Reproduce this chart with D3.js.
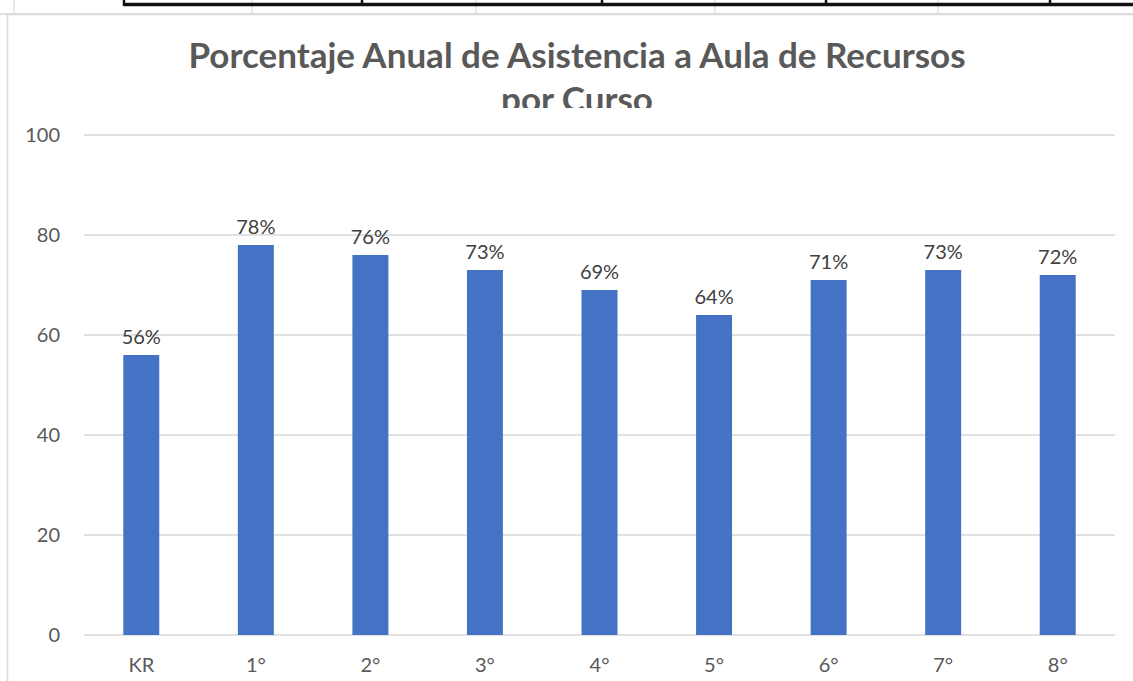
<!DOCTYPE html>
<html>
<head>
<meta charset="utf-8">
<script src="https://cdn.jsdelivr.net/npm/d3@7"></script>
<style>
  body { margin: 0; background: #fff; }
  svg { display: block; }
</style>
</head>
<body>
<div id="chart"></div>
<script>
// Data
const categories = ["KR", "1°", "2°", "3°", "4°", "5°", "6°", "7°", "8°"];
const values = [56, 78, 76, 73, 69, 64, 71, 73, 72];
const yTicks = [0, 20, 40, 60, 80, 100];
const titleLines = ["Porcentaje Anual de Asistencia a Aula de Recursos", "por Curso"];

// spreadsheet cell borders behind the chart
const cellLinesGray = [14, 252, 476, 715, 938];
const cellLinesBlack = [124, 362, 602, 826, 1050];

const W = 1133, H = 681;
const plot = { left: 84, right: 1115, top: 135, bottom: 635 };
const font = "Lato, 'Open Sans', sans-serif";

const svg = d3.select("#chart").append("svg")
    .attr("width", W)
    .attr("height", H);

// 1. Sheet background (the row above the chart)
svg.append("line")
    .attr("x1", 0).attr("x2", W)
    .attr("y1", 14).attr("y2", 14)
    .attr("stroke", "#d4d4d4").attr("stroke-width", 1.5);
svg.selectAll(".cell-gray")
    .data(cellLinesGray)
    .enter().append("line")
    .attr("x1", d => d).attr("x2", d => d)
    .attr("y1", 0).attr("y2", 14)
    .attr("stroke", "#d4d4d4").attr("stroke-width", 1);
svg.append("line")
    .attr("x1", 124).attr("x2", W)
    .attr("y1", 4.5).attr("y2", 4.5)
    .attr("stroke", "#111").attr("stroke-width", 3.5);
svg.selectAll(".cell-black")
    .data(cellLinesBlack)
    .enter().append("line")
    .attr("x1", d => d).attr("x2", d => d)
    .attr("y1", 0).attr("y2", 6)
    .attr("stroke", "#111").attr("stroke-width", 2.5);

// Chart frame
svg.append("rect")
    .attr("x", 7.5).attr("y", 14.5)
    .attr("width", W + 10).attr("height", H)
    .attr("fill", "#fff")
    .attr("stroke", "#d9d9d9").attr("stroke-width", 1.5);

// 2. Title (second line gets cut by the plot area)
svg.append("defs").append("clipPath")
    .attr("id", "title-clip")
  .append("rect")
    .attr("x", 0).attr("y", 0).attr("width", W).attr("height", 108);

const title = svg.append("g").attr("clip-path", "url(#title-clip)");
title.selectAll("text")
    .data(titleLines)
    .enter().append("text")
    .attr("x", 577)
    .attr("y", (d, i) => 68 + i * 44)
    .attr("text-anchor", "middle")
    .style("font-family", font)
    .style("font-weight", "bold")
    .style("font-size", "35px")
    .style("fill", "#595959")
    .text(d => d);

// 3. Scales
const x = d3.scaleBand()
    .domain(categories)
    .range([plot.left, plot.right])
    .paddingInner(0.686)
    .paddingOuter(0.343);

const y = d3.scaleLinear()
    .domain([0, 100])
    .range([plot.bottom, plot.top]);

// Gridlines
svg.append("g")
    .selectAll("line")
    .data(yTicks)
    .enter().append("line")
    .attr("x1", plot.left).attr("x2", plot.right)
    .attr("y1", d => y(d)).attr("y2", d => y(d))
    .attr("stroke", "#d9d9d9")
    .attr("stroke-width", 1.5);

// Y axis labels
const yAxis = svg.append("g")
    .attr("transform", `translate(${plot.left},0)`)
    .call(d3.axisLeft(y).tickValues(yTicks).tickSize(0).tickPadding(24));
yAxis.select(".domain").remove();
yAxis.selectAll("text")
    .style("font-family", font)
    .style("font-size", "20px")
    .style("fill", "#595959");

// X axis labels
const xAxis = svg.append("g")
    .attr("transform", `translate(0,${plot.bottom})`)
    .call(d3.axisBottom(x).tickSize(0).tickPadding(23));
xAxis.select(".domain").remove();
xAxis.selectAll("text")
    .style("font-family", font)
    .style("font-size", "20px")
    .style("fill", "#595959");

// 4. Bars
svg.append("g")
    .selectAll("rect")
    .data(values)
    .enter().append("rect")
    .attr("x", (d, i) => x(categories[i]))
    .attr("y", d => y(d))
    .attr("width", x.bandwidth())
    .attr("height", d => y(0) - y(d))
    .attr("fill", "#4472C4");

// Data labels
svg.append("g")
    .selectAll("text")
    .data(values)
    .enter().append("text")
    .attr("x", (d, i) => x(categories[i]) + x.bandwidth() / 2)
    .attr("y", d => y(d) - 11)
    .attr("text-anchor", "middle")
    .style("font-family", font)
    .style("font-size", "20px")
    .style("fill", "#404040")
    .text(d => d + "%");
</script>
</body>
</html>
